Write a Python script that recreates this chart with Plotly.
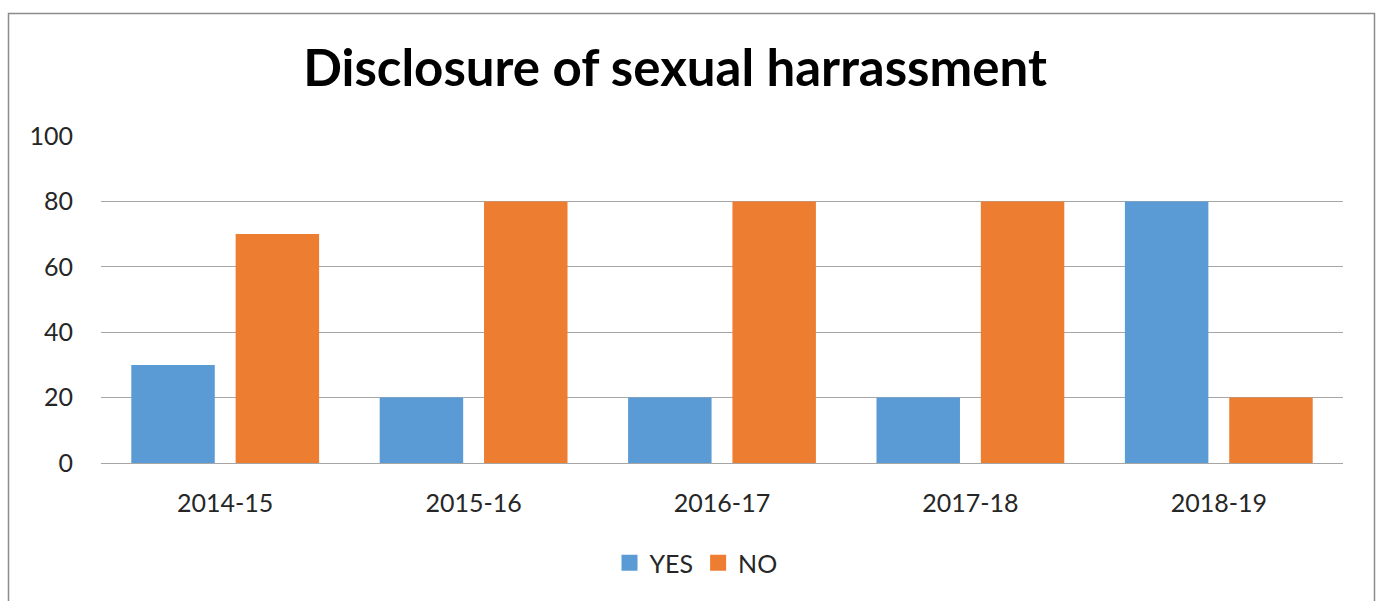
import plotly.graph_objects as go

categories = ["2014-15", "2015-16", "2016-17", "2017-18", "2018-19"]
yes_values = [30, 20, 20, 20, 80]
no_values = [70, 80, 80, 80, 20]
y_ticks = [0, 20, 40, 60, 80, 100]
series_names = ["YES", "NO"]
series_colors = ["#5B9BD5", "#ED7D31"]

FONT = "Lato"
W, H = 1380, 601
L, R, T, B = 101, 37, 136, 138
pw = W - L - R
ph = H - T - B

def px_x(p):
    return (p - L) / pw

def px_y(p):
    return (H - B - p) / ph

fig = go.Figure()
for name, vals, col in zip(series_names, [yes_values, no_values], series_colors):
    fig.add_trace(go.Bar(name=name, x=categories, y=vals, marker_color=col,
                         marker_line_width=0, showlegend=False))
# legend entries with larger square swatches
for name, col in zip(series_names, series_colors):
    fig.add_trace(go.Scatter(name=name, x=[None], y=[None], mode="markers",
                             marker=dict(symbol="square", size=17, color=col),
                             showlegend=True, hoverinfo="skip"))

fig.update_layout(
    width=W, height=H,
    margin=dict(l=L, r=R, t=T, b=B),
    paper_bgcolor="white", plot_bgcolor="white",
    barmode="group", bargap=0.16, bargroupgap=0.2,
    title=dict(text="<b>Disclosure of sexual harrassment</b>",
               font=dict(family=FONT, size=51, color="#000000"),
               x=675 / W, xref="container", xanchor="center",
               y=1 - 68 / H, yref="container", yanchor="middle"),
    font=dict(family=FONT, size=25, color="#262626"),
    showlegend=True,
    legend=dict(orientation="h", x=px_x(696), xanchor="center",
                y=px_y(563), yanchor="middle",
                font=dict(family=FONT, size=25, color="#262626"),
                itemwidth=30, traceorder="normal"),
    shapes=[dict(type="rect", xref="paper", yref="paper",
                 x0=px_x(8.5), x1=px_x(1374.5), y0=px_y(620), y1=px_y(13.5),
                 line=dict(color="#8C8C8C", width=1.5), layer="below")],
)
fig.update_yaxes(range=[0, 100], tickvals=y_ticks, showgrid=True,
                 gridcolor="#A6A6A6", gridwidth=1, zeroline=False,
                 showline=False, ticklabelstandoff=27, fixedrange=True)
fig.update_xaxes(showline=True, linecolor="#A6A6A6", linewidth=1,
                 ticklabelstandoff=18, showgrid=False, fixedrange=True)

fig.write_html("out.html")
